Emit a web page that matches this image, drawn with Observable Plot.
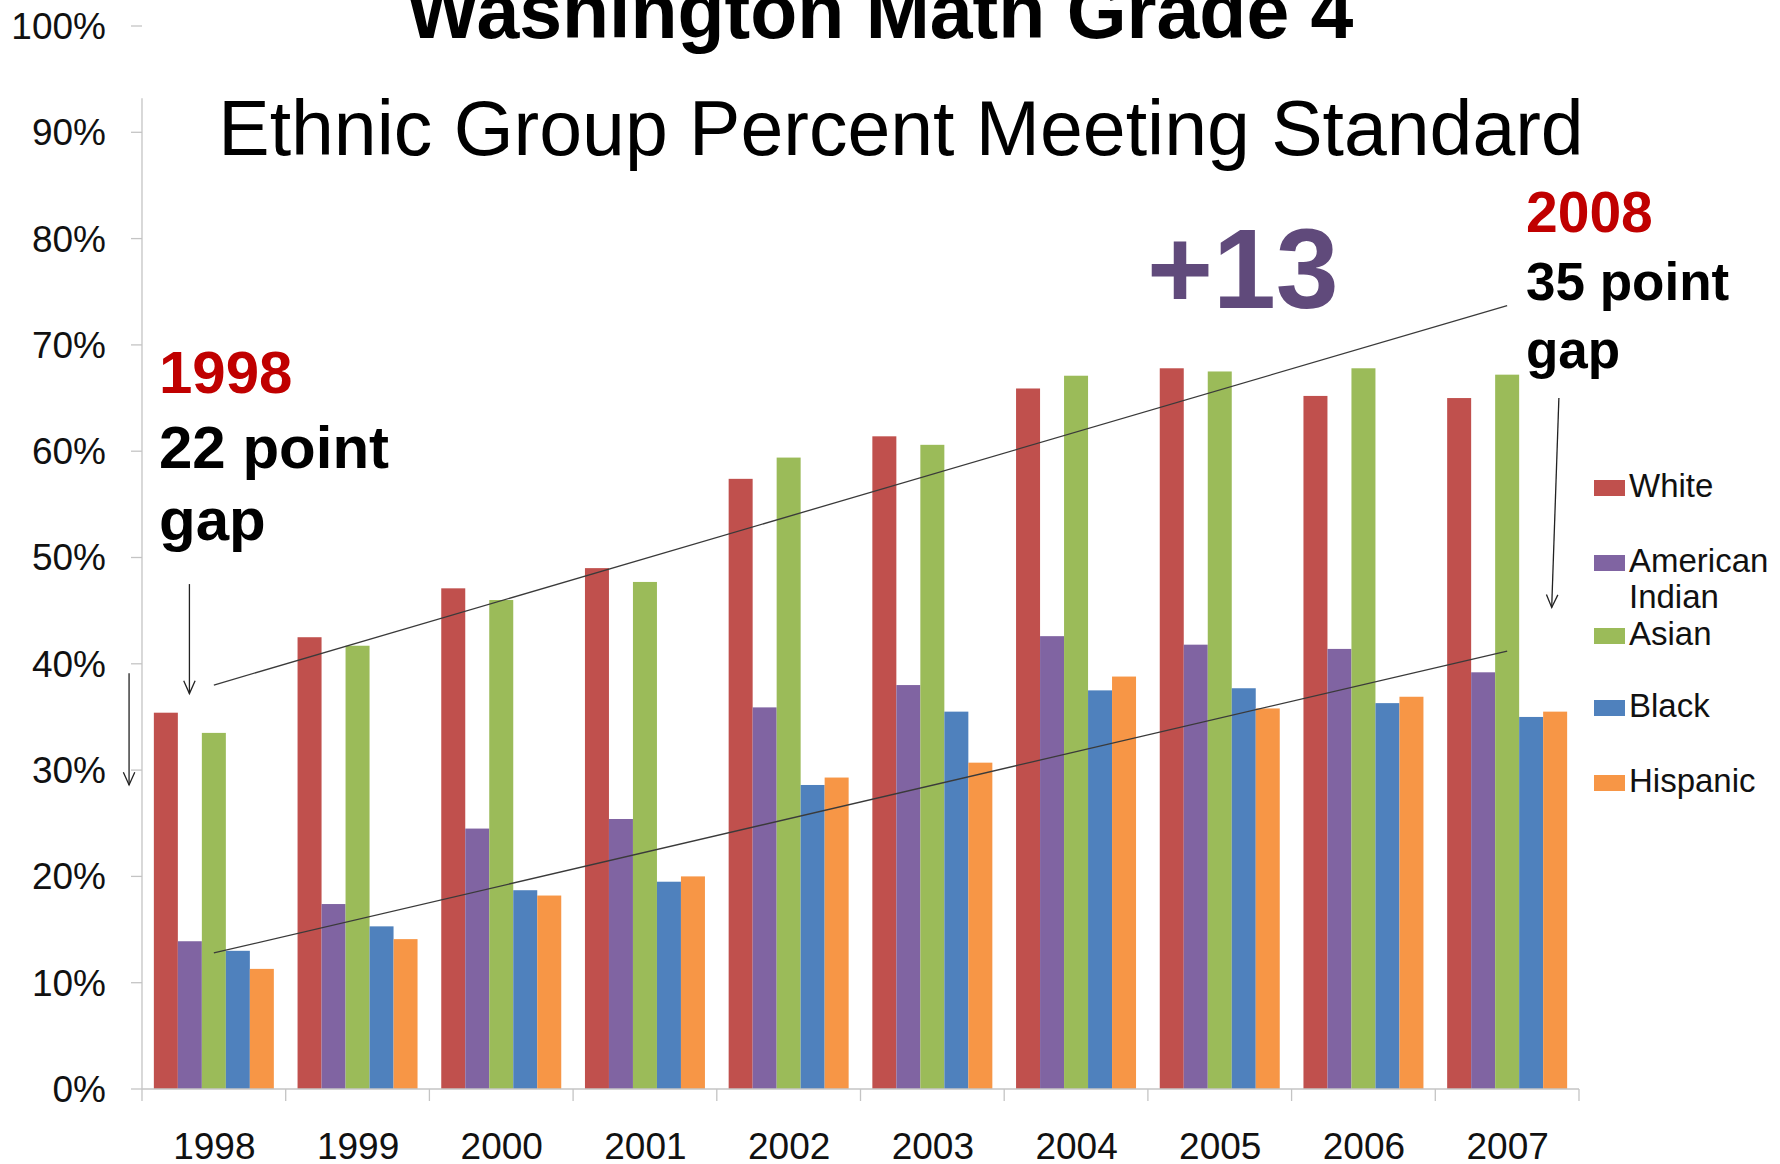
<!DOCTYPE html>
<html>
<head>
<meta charset="utf-8">
<script src="https://cdn.jsdelivr.net/npm/d3@7"></script>
<script src="https://cdn.jsdelivr.net/npm/@observablehq/plot@0.6"></script>
<style>
  html, body { margin: 0; padding: 0; background: #fff; }
  #wrap { position: relative; width: 1780px; height: 1164px; }
</style>
</head>
<body>
<div id="wrap"></div>
<script>
// ---------------- data ----------------
const years = ["1998", "1999", "2000", "2001", "2002", "2003", "2004", "2005", "2006", "2007"];
const groups = ["White", "American Indian", "Asian", "Black", "Hispanic"];
const groupColors = ["#C0504D", "#8064A2", "#9BBB59", "#4F81BD", "#F79646"];

const white          = [35.4, 42.5, 47.1, 49.0, 57.4, 61.4, 65.9, 67.8, 65.2, 65.0];
const americanIndian = [13.9, 17.4, 24.5, 25.4, 35.9, 38.0, 42.6, 41.8, 41.4, 39.2];
const asian          = [33.5, 41.7, 46.0, 47.7, 59.4, 60.6, 67.1, 67.5, 67.8, 67.2];
const black          = [13.0, 15.3, 18.7, 19.5, 28.6, 35.5, 37.5, 37.7, 36.3, 35.0];
const hispanic       = [11.3, 14.1, 18.2, 20.0, 29.3, 30.7, 38.8, 35.8, 36.9, 35.5];

const yTicks = [0, 10, 20, 30, 40, 50, 60, 70, 80, 90, 100];
const yAxisTop = 93.2;

// annotation lines (trend lines of the gap), in data terms
const gapLines = [
  {from: "1998", to: "2007", y1: 38.0, y2: 73.7},
  {from: "1998", to: "2007", y1: 12.8, y2: 41.2}
];
// arrows: year + offset from group centre (in steps), y in %
const arrows = [
  {year: "1998", pos1: -0.59, pos2: -0.59, y1: 39.1, y2: 28.6},
  {year: "1998", pos1: -0.17, pos2: -0.17, y1: 47.5, y2: 37.2},
  {year: "2007", pos1: 0.36, pos2: 0.31, y1: 65.0, y2: 45.3}
];

// ---------------- table ----------------
const seriesValues = [white, americanIndian, asian, black, hispanic];
const table = [];
years.forEach((yr, i) => {
  groups.forEach((g, j) => table.push({year: yr, group: g, value: seriesValues[j][i]}));
});

const FONT = "'Liberation Sans', Arial, Helvetica, sans-serif";
const AXIS_GRAY = "#c4c4c4";

function decorations(index, scales, values, dimensions) {
  const {fx, y} = scales;
  const g = d3.create("svg:g");
  const step = fx.step();
  const bw = fx.bandwidth();
  const gap = (step - bw) / 2;
  const [left, right] = fx.range();
  const y0 = y(0);
  const center = (yr) => fx(yr) + bw / 2;
  // y axis: ticks + labels
  for (const t of yTicks) {
    g.append("line")
      .attr("x1", left - 11).attr("x2", left)
      .attr("y1", y(t)).attr("y2", y(t))
      .attr("stroke", AXIS_GRAY).attr("stroke-width", 1.3);
    g.append("text")
      .attr("x", left - 36).attr("y", y(t)).attr("dy", "0.35em")
      .attr("text-anchor", "end").attr("font-size", 37).attr("fill", "#111")
      .attr("font-family", FONT)
      .text(t + "%");
  }
  // y axis line
  g.append("line")
    .attr("x1", left).attr("x2", left)
    .attr("y1", y0).attr("y2", y(yAxisTop))
    .attr("stroke", AXIS_GRAY).attr("stroke-width", 1.3);
  // x baseline
  g.append("line")
    .attr("x1", left).attr("x2", right)
    .attr("y1", y0).attr("y2", y0)
    .attr("stroke", AXIS_GRAY).attr("stroke-width", 1.3);
  // category separators
  const bounds = years.map((yr) => fx(yr) - gap);
  bounds.push(fx(years[years.length - 1]) + bw + gap);
  for (const bx of bounds) {
    g.append("line")
      .attr("x1", bx).attr("x2", bx)
      .attr("y1", y0).attr("y2", y0 + 12)
      .attr("stroke", AXIS_GRAY).attr("stroke-width", 1.3);
  }
  // gap trend lines
  for (const l of gapLines) {
    g.append("line")
      .attr("x1", center(l.from)).attr("y1", y(l.y1))
      .attr("x2", center(l.to)).attr("y2", y(l.y2))
      .attr("stroke", "#3a3a3a").attr("stroke-width", 1.3);
  }
  // arrows
  for (const a of arrows) {
    const x1 = center(a.year) + a.pos1 * step, y1 = y(a.y1);
    const x2 = center(a.year) + a.pos2 * step, y2 = y(a.y2);
    g.append("line").attr("x1", x1).attr("y1", y1).attr("x2", x2).attr("y2", y2)
      .attr("stroke", "#222").attr("stroke-width", 1.3);
    const ang = Math.atan2(y2 - y1, x2 - x1);
    const L = 14, sp = 0.42;
    const p1 = [x2 - L * Math.cos(ang - sp), y2 - L * Math.sin(ang - sp)];
    const p2 = [x2 - L * Math.cos(ang + sp), y2 - L * Math.sin(ang + sp)];
    g.append("path")
      .attr("d", `M${p1[0]},${p1[1]}L${x2},${y2}L${p2[0]},${p2[1]}`)
      .attr("fill", "none").attr("stroke", "#222").attr("stroke-width", 1.3);
  }
  return g.node();
}

const chart = Plot.plot({
  width: 1780,
  height: 1164,
  marginLeft: 142,
  marginRight: 201,
  marginTop: 26,
  marginBottom: 75,
  style: {fontFamily: FONT, color: "#000", background: "#fff", overflow: "visible"},
  fx: {domain: years, paddingInner: 0.165, paddingOuter: 0.0825, round: false},
  x: {domain: groups, padding: 0, round: false, axis: null},
  y: {domain: [0, 100], axis: null},
  color: {domain: groups, range: groupColors},
  marks: [
    Plot.barY(table, {fx: "year", x: "group", y: "value", fill: "group"}),
    Plot.axisFx({
      anchor: "bottom", tickSize: 0, tickPadding: 43, fontSize: 37, label: null, fill: "#111"
    }),
    Plot.frame({facet: "super", render: decorations})
  ]
});

document.getElementById("wrap").appendChild(chart);

// ---------------- texts & legend ----------------
const svg = d3.select(chart);
const texts = [
  {t: "Washington Math Grade 4", x: 880, y: 38, s: 77, w: "bold", c: "#000", a: "middle"},
  {t: "Ethnic Group Percent Meeting Standard", x: 901, y: 155, s: 77, w: "normal", c: "#000", a: "middle"},
  {t: "1998", x: 159, y: 393, s: 60, w: "bold", c: "#C00000", a: "start"},
  {t: "22 point", x: 159, y: 468, s: 60, w: "bold", c: "#000", a: "start"},
  {t: "gap", x: 159, y: 540, s: 60, w: "bold", c: "#000", a: "start"},
  {t: "+13", x: 1147, y: 308, s: 113, w: "bold", c: "#604A7B", a: "start"},
  {t: "2008", x: 1526, y: 232, s: 57, w: "bold", c: "#C00000", a: "start"},
  {t: "35 point", x: 1526, y: 300, s: 53, w: "bold", c: "#000", a: "start"},
  {t: "gap", x: 1526, y: 368, s: 53, w: "bold", c: "#000", a: "start"}
];
const tg = svg.append("g").attr("font-family", FONT);
for (const d of texts) {
  tg.append("text").attr("x", d.x).attr("y", d.y)
    .attr("font-size", d.s).attr("font-weight", d.w)
    .attr("fill", d.c).attr("text-anchor", d.a).text(d.t);
}

// legend
const legendBaselines = [497, 572, 645, 717, 792];
const lg = svg.append("g").attr("font-family", FONT).attr("font-size", 33).attr("text-anchor", "start");
groups.forEach((g, i) => {
  const b = legendBaselines[i];
  lg.append("rect").attr("x", 1594).attr("y", b - 17).attr("width", 31).attr("height", 16)
    .attr("fill", groupColors[i]);
  const words = g === "American Indian" ? ["American", "Indian"] : [g];
  words.forEach((w, k) => {
    lg.append("text").attr("x", 1629).attr("y", b + k * 36)
      .attr("text-anchor", "start").attr("fill", "#111").text(w);
  });
});
</script>
</body>
</html>
